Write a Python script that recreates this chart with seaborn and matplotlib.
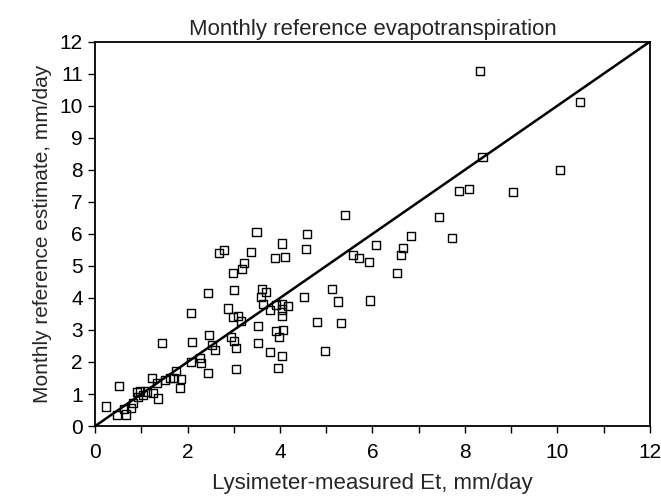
import numpy as np
import pandas as pd

import matplotlib
matplotlib.use("Agg")
import matplotlib.pyplot as plt
from matplotlib.ticker import MultipleLocator
import seaborn as sns

# Valores (mm/day)
lisimetro = [
    0.23, 0.52, 0.48, 0.67, 0.62, 0.77, 0.81, 0.90, 0.97, 0.92,
    1.04, 1.12, 1.22, 1.26, 1.35, 1.33, 1.44, 1.51, 1.61, 1.70,
    1.75, 1.85, 1.83, 2.07, 2.09, 2.08, 2.27, 2.29, 2.44, 2.44,
    2.46, 2.53, 2.59, 2.67, 2.78, 2.88, 2.93, 3.00, 3.05, 2.98,
    3.09, 3.15, 3.00, 2.98, 3.18, 3.22, 3.38, 3.04, 3.49, 3.53,
    3.53, 3.60, 3.69, 3.58, 3.64, 3.78, 3.78, 3.89, 4.11, 4.05,
    3.91, 4.04, 4.18, 4.04, 4.04, 3.92, 4.07, 3.98, 4.05, 3.96,
    4.51, 4.57, 4.59, 4.79, 4.98, 5.12, 5.26, 5.32, 5.40, 5.57,
    5.71, 5.93, 5.95, 6.07, 6.53, 6.62, 6.66, 6.84, 7.44, 7.72,
    7.88, 8.09, 8.33, 8.38, 9.04, 10.05, 10.50,
]
estimado = [
    0.61, 1.26, 0.35, 0.36, 0.52, 0.55, 0.73, 1.07, 1.09, 0.91,
    0.97, 1.08, 1.49, 1.02, 0.86, 1.33, 2.58, 1.44, 1.49, 1.51,
    1.72, 1.46, 1.19, 2.00, 2.63, 3.53, 2.13, 1.96, 1.66, 4.16,
    2.83, 2.54, 2.38, 5.39, 5.49, 3.67, 2.79, 2.65, 2.43, 3.40,
    3.45, 3.27, 4.25, 4.78, 4.91, 5.08, 5.43, 1.78, 6.05, 3.11,
    2.59, 4.27, 4.18, 4.03, 3.81, 3.61, 2.31, 5.24, 5.27, 5.70,
    3.77, 3.81, 3.75, 3.64, 3.43, 2.98, 3.00, 2.77, 2.20, 1.82,
    4.03, 5.52, 6.00, 3.25, 2.33, 4.29, 3.89, 3.23, 6.59, 5.35,
    5.24, 5.11, 3.92, 5.65, 4.77, 5.34, 5.56, 5.94, 6.52, 5.88,
    7.34, 7.40, 11.08, 8.39, 7.31, 7.99, 10.13,
]
limites = [0, 12]

datos = pd.DataFrame({"medido": lisimetro, "estimado": estimado})

sns.set_style("ticks")
plt.rcParams["font.family"] = ["Liberation Sans", "DejaVu Sans"]

fig = plt.figure(figsize=(6.61, 5.03), dpi=100)
ax = fig.add_axes([0.144, 0.153, 0.839, 0.764])

# linea 1:1
sns.lineplot(x=limites, y=limites, color="black", linewidth=1.8, ax=ax)

sns.scatterplot(
    data=datos,
    x="medido",
    y="estimado",
    marker="s",
    s=34,
    facecolor="none",
    edgecolor="black",
    linewidth=1.0,
    ax=ax,
)

ax.set_xlim(limites)
ax.set_ylim(limites)
ax.xaxis.set_major_locator(MultipleLocator(2))
ax.xaxis.set_minor_locator(MultipleLocator(1))
ax.yaxis.set_major_locator(MultipleLocator(1))
ax.tick_params(which="both", direction="out", length=5, width=1, colors="black")
ax.tick_params(labelsize=15)
ax.tick_params(axis="x", pad=7)
ax.tick_params(axis="y", pad=4)

for lado in ax.spines.values():
    lado.set_visible(True)
    lado.set_linewidth(1.3)
    lado.set_color("black")

ax.set_title("Monthly reference evapotranspiration", fontsize=16, pad=5)
ax.set_xlabel("Lysimeter-measured Et, mm/day", fontsize=16, labelpad=8)
ax.set_ylabel("Monthly reference estimate, mm/day", fontsize=15, labelpad=5)

fig.savefig("out.png", dpi=100)
